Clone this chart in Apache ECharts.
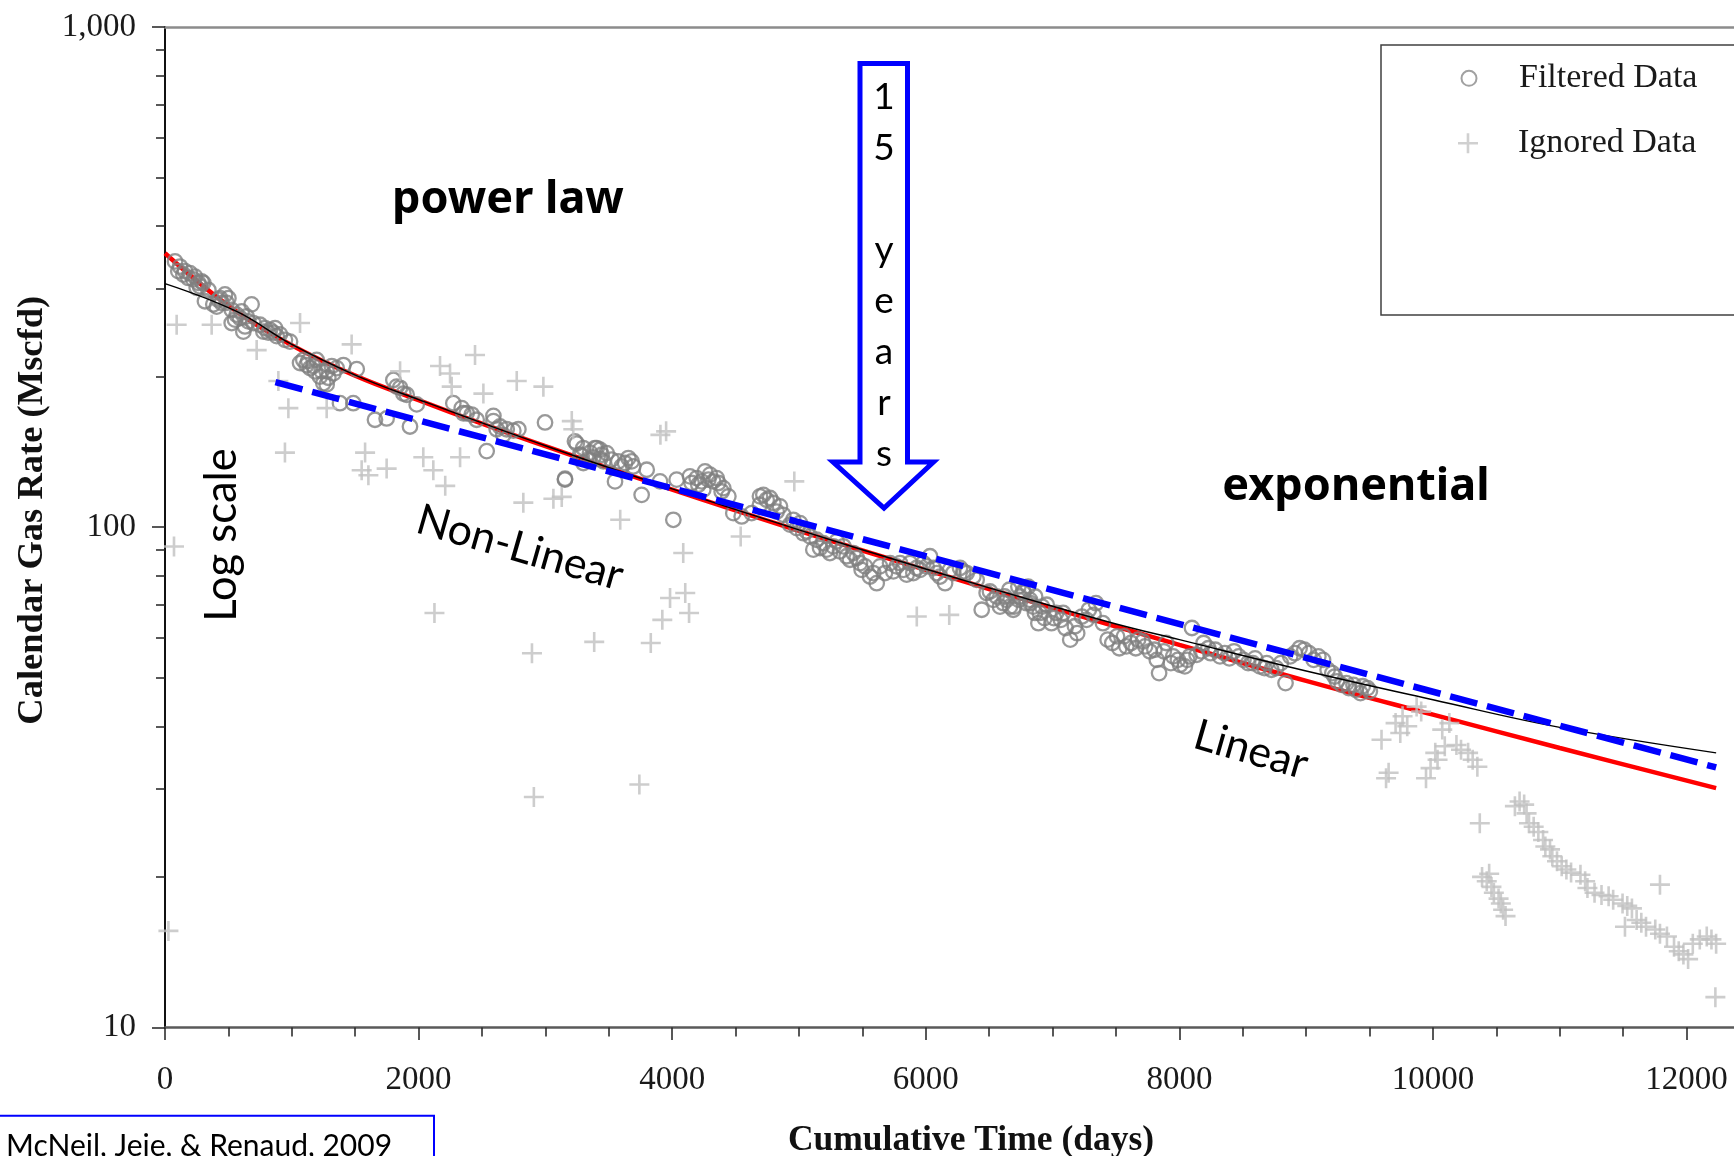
<!DOCTYPE html>
<html>
<head>
<meta charset="utf-8">
<title>Calendar Gas Rate vs Cumulative Time</title>
<script src="https://cdn.jsdelivr.net/npm/echarts@6/dist/echarts.min.js"></script>
<style>
  html, body { margin: 0; padding: 0; background: #ffffff; }
  #chart { width: 1734px; height: 1156px; }
</style>
</head>
<body>
<div id="chart"></div>
<script>
// Production history: [cumulative days, calendar gas rate (Mscfd)]
const filteredData = [
  [79,340],[105,325],[118,332],[145,320],[158,325],[184,315],[197,322],[223,313],[237,317],[250,301],
  [263,308],[276,303],[289,310],[302,308],[315,283],[342,298],[381,279],[408,276],[421,285],[434,287],
  [447,281],[473,292],[486,281],[500,287],[526,272],[526,256],[552,260],[565,266],[592,262],[605,270],
  [618,246],[631,252],[644,264],[657,258],[683,279],[697,256],[749,254],[776,246],[789,250],[815,245],
  [828,248],[855,245],[868,250],[881,241],[907,243],[946,237],[986,235],[1065,213],[1091,216],[1117,211],
  [1130,215],[1144,208],[1170,210],[1183,205],[1196,216],[1222,200],[1236,205],[1249,194],[1275,205],[1275,193],
  [1288,199],[1315,210],[1328,203],[1354,208],[1380,177],[1407,211],[1485,177],[1512,207],[1656,164],[1748,165],
  [1801,197],[1827,191],[1854,190],[1880,185],[1906,184],[1932,159],[1985,176],[2274,177],[2340,173],[2353,169],
  [2379,169],[2419,168],[2458,164],[2537,142],[2590,167],[2590,163],[2616,157],[2642,159],[2668,153],[2695,157],
  [2747,156],[2787,157],[2997,162],[3154,124.5],[3155,125],[3233,148.5],[3247,147],[3273,139.6],[3286,139],[3299,144],
  [3299,134.4],[3338,136.5],[3352,141],[3378,138],[3391,144],[3405,144],[3431,137],[3431,142.9],[3444,139.6],[3457,135.4],
  [3483,140.7],[3522,136.5],[3549,123.5],[3575,135.4],[3601,132.3],[3628,134.4],[3654,137.5],[3680,135.4],[3693,132.3],[3759,116.1],
  [3799,130.3],[3904,123.5],[4009,103.5],[4035,124.5],[4140,126.4],[4153,122.6],[4193,125.4],[4206,121.6],[4232,123.5],[4245,118.9],
  [4259,129.3],[4285,124.5],[4298,127.4],[4324,123.5],[4351,125.4],[4364,122.6],[4390,117.9],[4403,119.7],[4443,115.3],[4482,106.7],
  [4548,105.1],[4627,106.7],[4692,115.3],[4692,110.9],[4719,116.1],[4745,113.5],[4771,114.4],[4798,111.8],[4824,107.5],[4850,110.1],
  [4876,105.9],[4929,101.2],[4955,103.5],[4982,99.6],[5008,101.9],[5034,97.3],[5060,98.1],[5087,95.9],[5113,90.2],[5139,94.4],
  [5166,90.9],[5192,92.9],[5218,90.2],[5244,88.8],[5271,91.6],[5297,93.7],[5323,89.5],[5350,91.6],[5376,87.5],[5402,86.1],
  [5429,88.8],[5455,86.8],[5481,84.8],[5494,82.2],[5521,83.5],[5560,79.7],[5586,81],[5613,77.3],[5639,83.5],[5678,81],
  [5718,84.8],[5744,81.6],[5770,83.5],[5797,84.8],[5823,82.2],[5849,80.4],[5875,84.8],[5902,81],[5928,82.9],[5955,82.2],
  [5981,84.8],[6007,83.5],[6033,87.5],[6060,82.9],[6086,81],[6112,79.7],[6152,77.3],[6191,82.2],[6217,81],[6270,82.9],
  [6296,81.6],[6323,81],[6375,79.7],[6401,78.5],[6441,68.4],[6480,73.9],[6506,74.4],[6533,71.6],[6559,72.7],[6585,69.4],
  [6612,70.5],[6622,72.7],[6638,71.6],[6659,75],[6664,69.4],[6690,68.4],[6696,69.4],[6730,76.1],[6733,71.6],[6743,72.7],
  [6769,74.4],[6770,73.9],[6795,70.5],[6807,76.1],[6822,71.6],[6825,70.5],[6848,69.4],[6861,67.4],[6862,72.7],[6888,64.3],
  [6899,67.4],[6917,69.4],[6936,65.8],[6954,70],[6991,64.3],[7010,65.8],[7028,67.4],[7065,65.3],[7083,67.4],[7102,62.9],
  [7139,59.6],[7176,63.4],[7194,61.4],[7231,66.3],[7268,65.3],[7286,68.4],[7323,66.8],[7342,70.5],[7397,64.3],[7434,59.6],
  [7471,58.7],[7508,60.5],[7526,57.3],[7563,60.5],[7582,57.8],[7619,58.7],[7656,57.3],[7674,59.6],[7711,59.1],[7730,57.8],
  [7766,56.5],[7803,56.9],[7822,54.3],[7840,51.1],[7877,56.5],[7896,58.7],[7933,53.5],[7951,55.2],[7988,54.3],[8006,53.1],
  [8043,52.7],[8062,54.3],[8080,55.2],[8099,62.9],[8136,55.6],[8173,56.5],[8191,58.7],[8228,57.3],[8246,56],[8283,56.9],
  [8320,55.2],[8357,56],[8394,54.7],[8431,56.5],[8468,55.2],[8505,54.3],[8542,53.5],[8579,53.5],[8597,54.7],[8634,52.7],
  [8671,52.3],[8689,53.5],[8726,51.9],[8763,52.3],[8800,53.5],[8837,48.8],[8874,55.2],[8911,56],[8948,57.3],[8985,56.9],
  [9022,56],[9059,54.3],[9096,55.2],[9133,54.3],[9169,51.9],[9206,51.1],[9225,50.3],[9243,49.2],[9280,48.4],[9317,48.8],
  [9336,47.7],[9373,48.4],[9391,47.3],[9428,46.6],[9446,48.1],[9483,47.7],[9502,47]
];

const ignoredData = [
  [27,15.6],[71,91.5],[92,254],[368,254],[723,226],[894,196],[946,141],[973,173],[1065,256],[1275,173],
  [1472,232],[1551,130],[1578,141],[1604,127],[1748,131],[1854,205],[2037,138],[2116,130],[2125,67.4],[2169,210],
  [2210,121],[2248,203],[2261,191],[2327,138],[2445,221],[2511,185],[2774,196],[2826,112],[2894,56],[2909,28.9],
  [2984,191],[3063,114],[3129,115],[3208,163],[3220,157],[3385,59],[3590,103.5],[3741,30.6],[3831,58.7],[3907,153],
  [3922,65.3],[3952,155.5],[3983,72.2],[4087,88.8],[4103,73.9],[4133,67.4],[4540,95.8],[4963,123.5],[5929,66.3],[6185,66.8],
  [9594,37.6],[9630,31.5],[9650,32.3],[9705,40.6],[9742,38.8],[9760,41.9],[9797,40],[9871,43.8],[9907,42.8],[9945,31.5],
  [9981,33],[10018,35.4],[10036,34.3],[10073,39.4],[10093,36.5],[10129,40.6],[10185,36.7],[10221,35.9],[10277,35.4],[10313,34.3],
  [10350,33.2],[10369,25.6],[10387,20],[10424,19.6],[10443,20.3],[10461,19.1],[10480,18.6],[10517,18.1],[10535,17.7],[10553,17.2],
  [10572,16.7],[10646,27.7],[10683,28.3],[10719,27.9],[10738,26.8],[10757,25.6],[10794,25.2],[10831,24.6],[10868,23.7],[10886,23],
  [10923,22.7],[10941,22],[10978,21.5],[11015,21],[11052,20.7],[11089,20.4],[11163,20.2],[11200,19.6],[11218,19],[11274,18.6],
  [11329,18.4],[11385,18.3],[11421,18],[11495,17.7],[11514,15.9],[11532,17.5],[11569,17.3],[11606,16.4],[11643,16.2],[11680,15.9],
  [11753,15.7],[11790,15.4],[11790,19.3],[11845,15.2],[11901,14.5],[11938,14.2],[11975,14],[12012,13.7],[12049,14.7],[12104,15],
  [12159,15.2],[12196,15],[12227,11.5],[12233,14.7]
];

// Fitted decline curves
const powerLawFit = [
  [0,353],[500,277.3],[1000,231.2],[1500,200.9],[2000,179.5],[2500,161.1],[3000,145.2],[4000,118.9],
  [5000,98.4],[6000,82.2],[7000,69.0],[8000,58.2],[9000,49.3],[10000,42.2],[11000,36.2],[12233,30.1]
];
const modelFit = [
  [0,307],[565,270],[1000,232],[1500,201.5],[2000,180],[3000,145.5],[4000,119.3],[5000,98.8],
  [6000,82.5],[7000,69.5],[7508,64],[8000,59.6],[9000,51.6],[10000,45.2],[11000,39.8],[12233,35.4]
];
const exponentialFit = [[871,195],[12233,33.1]];

// Axis ticks
const xTickValues = [0, 2000, 4000, 6000, 8000, 10000, 12000];
const yMajorTicks = [10, 100, 1000];
const yMinorTicks = [20, 30, 40, 50, 60, 70, 80, 90, 200, 300, 400, 500, 600, 700, 800, 900];
const yTickLabels = { 10: '10', 100: '100', 1000: '1,000' };

const SERIF = "'Liberation Serif', 'Times New Roman', serif";
const SANS = "Lato, 'Noto Sans', sans-serif";
const PLUS = 'path://M8.7,0H11.3V20H8.7Z M0,8.7H20V11.3H0Z';
const X_MAX = 12713;

const chart = echarts.init(document.getElementById('chart'), null, { renderer: 'canvas' });

const tickStyle = { color: '#222222', width: 1.5 };

chart.setOption({
  animation: false,
  backgroundColor: '#ffffff',
  grid: { left: 165, top: 27, width: 1612, height: 1000.5, containLabel: false, outerBoundsMode: 'none' },
  legend: [
    {
      orient: 'vertical', left: 1460.5, top: 61.3, padding: 0,
      itemWidth: 15, itemHeight: 15, selectedMode: false,
      textStyle: { fontFamily: SERIF, fontSize: 34, color: '#1a1a1a', lineHeight: 33, padding: [0, 0, 0, 37.5] },
      data: [{ name: 'Filtered Data', icon: 'circle',
               itemStyle: { color: 'rgba(255,255,255,0)', borderColor: '#8a8a8a', borderWidth: 2 } }]
    },
    {
      orient: 'vertical', left: 1458, top: 126.3, padding: 0,
      itemWidth: 20, itemHeight: 20, selectedMode: false,
      textStyle: { fontFamily: SERIF, fontSize: 34, color: '#1a1a1a', lineHeight: 33, padding: [0, 0, 0, 35] },
      data: [{ name: 'Ignored Data', icon: PLUS, itemStyle: { color: '#c4c4c4' } }]
    }
  ],
  xAxis: [
    {
      type: 'value', position: 'bottom', min: 0, max: X_MAX, interval: 2000,
      axisLine: { show: true, onZero: false, lineStyle: { color: '#5a5a5a', width: 2.5 } },
      axisTick: { show: true, length: 12.5, lineStyle: tickStyle },
      minorTick: { show: true, splitNumber: 4, length: 9, lineStyle: tickStyle },
      splitLine: { show: false }, minorSplitLine: { show: false },
      axisLabel: {
        margin: 36, fontFamily: SERIF, fontSize: 33, color: '#1a1a1a',
        formatter: v => (xTickValues.indexOf(Math.round(v)) >= 0 ? String(Math.round(v)) : '')
      },
      name: 'Cumulative Time (days)', nameLocation: 'middle', nameGap: 95,
      nameTextStyle: { fontFamily: SERIF, fontSize: 35.5, fontWeight: 'bold', color: '#111111' }
    },
    {
      type: 'value', position: 'top', min: 0, max: X_MAX,
      axisLine: { show: true, onZero: false, lineStyle: { color: '#8c8c8c', width: 2.5 } },
      axisTick: { show: false }, axisLabel: { show: false }, splitLine: { show: false }
    }
  ],
  yAxis: [
    {
      type: 'log', logBase: 10, min: 10, max: 1000, position: 'left',
      axisLine: { show: true, onZero: false, lineStyle: { color: '#111111', width: 2 } },
      axisTick: { show: true, length: 13, customValues: yMajorTicks, lineStyle: tickStyle },
      axisLabel: {
        customValues: yMajorTicks, margin: 29, fontFamily: SERIF, fontSize: 33, color: '#1a1a1a',
        formatter: v => yTickLabels[Math.round(v)] || ''
      },
      splitLine: { show: false },
      name: 'Calendar Gas Rate (Mscfd)', nameLocation: 'middle', nameGap: 114,
      nameTextStyle: { fontFamily: SERIF, fontSize: 36.5, fontWeight: 'bold', color: '#111111',
                       padding: [0, 0, 0, 34] }
    },
    {
      type: 'log', logBase: 10, min: 10, max: 1000, position: 'left',
      axisLine: { show: false },
      axisTick: { show: true, length: 9, customValues: yMinorTicks, lineStyle: tickStyle },
      axisLabel: { show: false }, splitLine: { show: false }
    }
  ],
  series: [
    {
      name: 'Power law fit', type: 'line', data: powerLawFit, xAxisIndex: 0, yAxisIndex: 0,
      showSymbol: false, smooth: 0.4, silent: true, z: 2,
      lineStyle: { color: '#ff0000', width: 4.5 }
    },
    {
      name: 'Filtered Data', type: 'scatter', data: filteredData, xAxisIndex: 0, yAxisIndex: 0,
      symbol: 'circle', symbolSize: 14.5, silent: true, z: 3,
      itemStyle: { color: 'rgba(255,255,255,0)', borderColor: '#7f7f7f', borderWidth: 2.3 }
    },
    {
      name: 'Ignored Data', type: 'scatter', data: ignoredData, xAxisIndex: 0, yAxisIndex: 0,
      symbol: PLUS, symbolSize: 20, silent: true, z: 3,
      itemStyle: { color: '#c0c0c0' }
    },
    {
      name: 'Model fit', type: 'line', data: modelFit, xAxisIndex: 0, yAxisIndex: 0,
      showSymbol: false, smooth: 0.4, silent: true, z: 4,
      lineStyle: { color: '#000000', width: 1.4 }
    },
    {
      name: 'Exponential fit', type: 'line', data: exponentialFit, xAxisIndex: 0, yAxisIndex: 0,
      showSymbol: false, silent: true, z: 5,
      lineStyle: { color: '#0000ff', width: 6.5, type: [28, 10] }
    }
  ],
  graphic: [
    // legend frame
    { type: 'rect', z: 1, shape: { x: 1381, y: 45, width: 420, height: 270 },
      style: { fill: 'none', stroke: '#404040', lineWidth: 1.5 } },
    // "15 years" arrow
    { type: 'polygon', z: 10,
      shape: { points: [[860, 63.5], [907.5, 63.5], [907.5, 462], [933.5, 462], [884, 508], [833, 462], [860, 462]] },
      style: { fill: '#ffffff', stroke: '#0000ff', lineWidth: 5 } },
    { type: 'text', z: 11, x: 884, y: 276,
      style: { text: '1\n5\n\ny\ne\na\nr\ns', fill: '#000000', fontFamily: SANS, fontSize: 37, lineHeight: 51,
               align: 'center', verticalAlign: 'middle', textAlign: 'center', textVerticalAlign: 'middle' } },
    // regime labels
    { type: 'text', z: 11, x: 508, y: 200,
      style: { text: 'power law', fill: '#000000', fontFamily: "'Noto Sans', sans-serif", fontWeight: 'bold', fontSize: 45,
               align: 'center', verticalAlign: 'middle', textAlign: 'center', textVerticalAlign: 'middle' } },
    { type: 'text', z: 11, x: 1356, y: 487,
      style: { text: 'exponential', fill: '#000000', fontFamily: "'Noto Sans', sans-serif", fontWeight: 'bold', fontSize: 45,
               align: 'center', verticalAlign: 'middle', textAlign: 'center', textVerticalAlign: 'middle' } },
    { type: 'text', z: 11, x: 520, y: 548, rotation: -16 * Math.PI / 180,
      style: { text: 'Non-Linear', fill: '#000000', fontFamily: SANS, fontSize: 43,
               align: 'center', verticalAlign: 'middle', textAlign: 'center', textVerticalAlign: 'middle' } },
    { type: 'text', z: 11, x: 1251, y: 750, rotation: -16 * Math.PI / 180,
      style: { text: 'Linear', fill: '#000000', fontFamily: SANS, fontSize: 43,
               align: 'center', verticalAlign: 'middle', textAlign: 'center', textVerticalAlign: 'middle' } },
    { type: 'text', z: 11, x: 221.5, y: 535, rotation: Math.PI / 2,
      style: { text: 'Log scale', fill: '#000000', fontFamily: SANS, fontSize: 43.5,
               align: 'center', verticalAlign: 'middle', textAlign: 'center', textVerticalAlign: 'middle' } },
    // source box
    { type: 'rect', z: 11, shape: { x: -2, y: 1115.7, width: 436, height: 80 },
      style: { fill: '#ffffff', stroke: '#0000ff', lineWidth: 2 } },
    { type: 'text', z: 12, x: 6, y: 1146,
      style: { text: 'McNeil, Jeje, & Renaud, 2009', fill: '#000000', fontFamily: SANS, fontSize: 30,
               align: 'left', verticalAlign: 'middle', textAlign: 'left', textVerticalAlign: 'middle' } }
  ]
});
</script>
</body>
</html>
